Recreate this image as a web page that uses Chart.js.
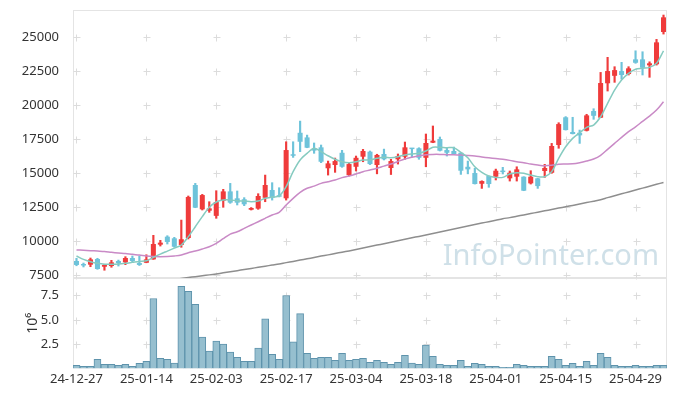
<!DOCTYPE html>
<html>
<head>
<meta charset="utf-8">
<script src="https://cdn.jsdelivr.net/npm/chart.js@4.4.1/dist/chart.umd.min.js"></script>
<style>
  body { margin: 0; background: #fff; }
  #wrap { position: relative; width: 677px; height: 396px; }
  #c1 { position: absolute; left: 0; top: 0; }
  #c2 { position: absolute; left: 0; top: 278px; }
</style>
</head>
<body>
<div id="wrap">
  <canvas id="c1" width="677" height="290"></canvas>
  <canvas id="c2" width="677" height="118"></canvas>
</div>
<script>
// trading days
var dates = ["24-12-27","24-12-30","25-01-02","25-01-03","25-01-06","25-01-07","25-01-08","25-01-09","25-01-10","25-01-13",
  "25-01-14","25-01-15","25-01-16","25-01-17","25-01-20","25-01-21","25-01-22","25-01-23","25-01-24","25-01-31",
  "25-02-03","25-02-04","25-02-05","25-02-06","25-02-07","25-02-10","25-02-11","25-02-12","25-02-13","25-02-14",
  "25-02-17","25-02-18","25-02-19","25-02-20","25-02-21","25-02-24","25-02-25","25-02-26","25-02-27","25-02-28",
  "25-03-04","25-03-05","25-03-06","25-03-07","25-03-10","25-03-11","25-03-12","25-03-13","25-03-14","25-03-17",
  "25-03-18","25-03-19","25-03-20","25-03-21","25-03-24","25-03-25","25-03-26","25-03-27","25-03-28","25-03-31",
  "25-04-01","25-04-02","25-04-03","25-04-04","25-04-07","25-04-08","25-04-09","25-04-10","25-04-11","25-04-14",
  "25-04-15","25-04-16","25-04-17","25-04-18","25-04-21","25-04-22","25-04-23","25-04-24","25-04-25","25-04-28",
  "25-04-29","25-04-30","25-05-02","25-05-07","25-05-08"];

var open = [8530,8270,8260,8680,8110,8160,8530,8430,8750,8380,
  8400,8650,9730,10320,10200,9710,10220,14120,12330,12230,
  11850,12960,13650,13140,13070,12300,12380,13180,13750,13330,
  13140,16380,17960,17620,16770,16890,15350,15590,16490,14850,
  15460,16200,16570,15590,16400,15370,16010,16200,16820,16820,
  16120,17230,17500,16690,16620,16490,15460,15000,14210,14780,
  14730,15170,14610,14730,14730,14240,14610,15150,15020,17060,
  19100,18020,17960,18110,19560,19070,21600,22150,22500,22280,
  23360,23360,22920,23000,25370];
var high = [8730,8380,8750,8730,8290,8580,8600,8850,8900,8900,
  8990,10420,10050,10390,10270,11540,13310,14240,13430,12890,
  13700,13800,14240,13680,13190,12460,13480,14850,14290,13920,
  17300,17300,18820,17790,17210,17060,15880,16100,16670,15760,
  16250,16740,16620,16380,16760,16010,16400,17280,16820,16860,
  17870,18460,17650,16890,16910,16490,15880,15350,14430,14780,
  15290,15420,15150,15460,14730,15170,14610,15640,17180,18700,
  19150,19100,18160,19320,19730,22400,23510,22820,23140,22820,
  23990,23920,23180,24830,26620];
var low = [8180,8090,8110,7920,7850,8070,8160,8260,8460,8200,
  8400,8650,9630,9780,9540,9540,10150,12450,12280,12110,
  11670,12480,12770,12650,12600,12280,12330,12890,13010,13240,
  13010,16150,16570,16860,16450,15760,14850,15050,15420,14780,
  15150,15830,15620,14940,15960,14890,15660,16010,16200,16010,
  15460,17230,16620,16250,16380,14900,14940,14190,13870,13950,
  14490,14930,14410,14410,13700,14190,13870,14680,14980,16820,
  18160,17870,17180,18090,18950,19070,21030,21670,21910,22210,
  23070,22210,22040,22940,25220];
var close = [8240,8200,8650,7940,8240,8430,8380,8750,8530,8240,
  8650,9780,9880,9930,9580,10130,13240,12450,13380,12400,
  12870,13650,12820,12820,12700,12430,13310,14120,13180,13260,
  16690,16270,17300,16860,16650,15830,15710,15880,15460,15660,
  16120,16620,15660,16330,16010,15880,16250,16890,16760,16120,
  17210,17380,16640,16490,16400,15170,15270,14190,14410,14190,
  15170,15070,15020,15270,13700,14730,14040,15370,16990,18600,
  18160,17870,17770,19240,19210,21620,22500,22570,22210,22700,
  23110,22740,23070,24610,26450];

var ma5 = [8900,8650,8480,8360,8290,8290,8310,8360,8430,8500,
  8550,8800,9040,9260,9480,9710,10320,11050,11790,12480,
  12870,13020,13020,12960,12940,12890,12940,13140,13230,13310,
  14000,15100,15960,16450,16820,16570,16270,16010,15830,15760,
  15830,15960,15960,16080,16160,16130,16200,16330,16400,16450,
  16620,16890,16890,16860,16860,16520,16120,15460,15050,14780,
  14680,14680,14930,15020,14980,14850,14730,14730,15100,16080,
  16930,17550,17960,18360,18530,19140,20120,21100,21840,22330,
  22630,22700,22770,23070,23990];
var ma20 = [9340,9320,9290,9260,9230,9170,9120,9080,9020,8970,
  8900,8860,8850,8860,8900,8970,9140,9260,9410,9580,
  9830,10170,10510,10680,10930,11180,11420,11670,11910,12110,
  12650,13140,13580,13880,14040,14240,14360,14490,14660,14780,
  14930,15100,15220,15350,15510,15660,15850,16030,16160,16270,
  16350,16370,16370,16350,16340,16320,16290,16250,16180,16120,
  16070,16010,15930,15830,15760,15660,15590,15540,15570,15640,
  15660,15680,15760,15880,16030,16300,16740,17180,17620,18040,
  18400,18800,19190,19630,20240];
var ma60 = [6420,6470,6520,6570,6620,6680,6730,6790,6840,6900,
  6950,7010,7060,7120,7180,7240,7310,7380,7450,7510,
  7580,7660,7740,7820,7900,7980,8070,8150,8230,8310,
  8410,8500,8600,8690,8790,8890,8980,9080,9180,9270,
  9370,9480,9590,9700,9800,9910,10020,10130,10240,10340,
  10450,10560,10670,10780,10880,10990,11100,11210,11320,11420,
  11530,11640,11720,11820,11920,12020,12120,12220,12320,12420,
  12520,12620,12730,12830,12930,13040,13190,13330,13470,13610,
  13750,13890,14030,14170,14310];

var vol = [310000,210000,210000,940000,420000,420000,310000,420000,210000,520000,
  730000,7190000,1040000,940000,560000,8440000,7920000,6600000,3230000,1770000,
  2810000,2500000,1670000,1150000,730000,730000,2080000,5100000,1460000,940000,
  7500000,2740000,5630000,1560000,1040000,1150000,1150000,830000,1560000,830000,
  940000,1040000,630000,830000,630000,420000,630000,1350000,560000,420000,
  2400000,1250000,420000,310000,310000,830000,210000,520000,420000,210000,
  210000,100000,100000,420000,310000,210000,210000,210000,1250000,940000,
  310000,520000,210000,730000,310000,1560000,1150000,310000,210000,210000,
  310000,210000,210000,310000,310000];

var yTicks = [7500,10000,12500,15000,17500,20000,22500,25000];
var volTicks = [2500000,5000000,7500000];

var upColor = '#ef3b3b';
var downColor = '#6ec3da';
var fontFam = "'Noto Sans', 'DejaVu Sans', sans-serif";

var candleColors = close.map(function (c, i) { return c >= open[i] ? upColor : downColor; });
var bodies = open.map(function (o, i) { return [o, close[i]]; });
var wicks = low.map(function (l, i) { return [l, high[i]]; });

// little "+" marks at tick crossings and a light frame round the plot
var crossPlugin = {
  id: 'cross',
  beforeDatasetsDraw: function (chart) {
    var ctx = chart.ctx, a = chart.chartArea, x = chart.scales.x, y = chart.scales.y;
    ctx.save();
    ctx.strokeStyle = '#e4e4e4';
    ctx.lineWidth = 1;
    ctx.strokeRect(a.left + 0.5, a.top + 0.5, a.width - 1, a.height - 1);
    ctx.strokeStyle = '#dcdcdc';
    ctx.beginPath();
    for (var i = 0; i < dates.length; i += 10) {
      var px = Math.round(x.getPixelForValue(i)) + 0.5;
      y.ticks.forEach(function (t) {
        var py = Math.round(y.getPixelForValue(t.value)) + 0.5;
        ctx.moveTo(px - 3, py); ctx.lineTo(px + 4, py);
        ctx.moveTo(px, py - 3); ctx.lineTo(px, py + 4);
      });
    }
    ctx.stroke();
    ctx.restore();
  }
};

var markPlugin = {
  id: 'mark',
  beforeDatasetsDraw: function (chart) {
    var ctx = chart.ctx, a = chart.chartArea;
    ctx.save();
    ctx.font = "29px " + fontFam;
    ctx.fillStyle = '#cfe0e8';
    ctx.textAlign = 'right';
    ctx.textBaseline = 'alphabetic';
    ctx.fillText('InfoPointer.com', a.right - 8, a.bottom - 13);
    ctx.restore();
  }
};

// "10⁶" unit label, rotated, left of the volume ticks
var unitPlugin = {
  id: 'unit',
  afterDraw: function (chart) {
    var ctx = chart.ctx, a = chart.chartArea;
    ctx.save();
    ctx.translate(a.left - 40, (a.top + a.bottom) / 2);
    ctx.rotate(-Math.PI / 2);
    ctx.font = "14px " + fontFam;
    ctx.fillStyle = '#333';
    ctx.textAlign = 'center';
    ctx.textBaseline = 'middle';
    ctx.fillText('10⁶', 0, 0);
    ctx.restore();
  }
};

var tickFont = { family: fontFam, size: 13 };

function fixY(s) {
  s.width = 73;
  s.paddingTop = 0;
  s.paddingBottom = 0;
}

// prix
new Chart(document.getElementById('c1'), {
  type: 'bar',
  data: {
    labels: dates,
    datasets: [
      { type: 'line', data: ma5, borderColor: '#86cbc0', borderWidth: 1.5, pointRadius: 0, tension: 0.3 },
      { type: 'line', data: ma20, borderColor: '#c98ac6', borderWidth: 1.5, pointRadius: 0, tension: 0.3 },
      { type: 'line', data: ma60, borderColor: '#8e8e8e', borderWidth: 1.5, pointRadius: 0, tension: 0.3 },
      { data: bodies, backgroundColor: candleColors, grouped: false, barPercentage: 0.72, categoryPercentage: 1, minBarLength: 1.5 },
      { data: wicks, backgroundColor: candleColors, grouped: false, barThickness: 1.5 }
    ]
  },
  options: {
    responsive: false,
    animation: false,
    layout: { padding: { top: 10, right: 10, bottom: 12, left: 0 } },
    plugins: { legend: { display: false }, tooltip: { enabled: false } },
    scales: {
      x: { display: false, offset: true },
      y: {
        min: 7280, max: 26990,
        afterBuildTicks: function (s) { s.ticks = yTicks.map(function (v) { return { value: v }; }); },
        afterFit: fixY,
        grid: { display: false },
        border: { display: false },
        ticks: { color: '#333', font: tickFont, padding: 6, callback: function (v) { return String(v); } }
      }
    }
  },
  plugins: [crossPlugin, markPlugin]
});

// volume
new Chart(document.getElementById('c2'), {
  type: 'bar',
  data: {
    labels: dates,
    datasets: [{
      data: vol,
      backgroundColor: '#96bfcf',
      borderColor: '#5e93ac',
      borderWidth: 1,
      barPercentage: 1,
      categoryPercentage: 1
    }]
  },
  options: {
    responsive: false,
    animation: false,
    layout: { padding: { top: 0, right: 10, bottom: 6, left: 0 } },
    plugins: { legend: { display: false }, tooltip: { enabled: false } },
    scales: {
      x: {
        grid: { display: false, drawTicks: false },
        border: { display: false },
        ticks: {
          autoSkip: false, maxRotation: 0, padding: 3, color: '#333', font: tickFont,
          callback: function (v, i) { return i % 10 === 0 ? dates[i] : null; }
        }
      },
      y: {
        min: 0, max: 9300000,
        afterBuildTicks: function (s) { s.ticks = volTicks.map(function (v) { return { value: v }; }); },
        afterFit: fixY,
        grid: { display: false },
        border: { display: false },
        ticks: { color: '#333', font: tickFont, padding: 6, callback: function (v) { return (v / 1e6).toFixed(1); } }
      }
    }
  },
  plugins: [crossPlugin, unitPlugin]
});
</script>
</body>
</html>
